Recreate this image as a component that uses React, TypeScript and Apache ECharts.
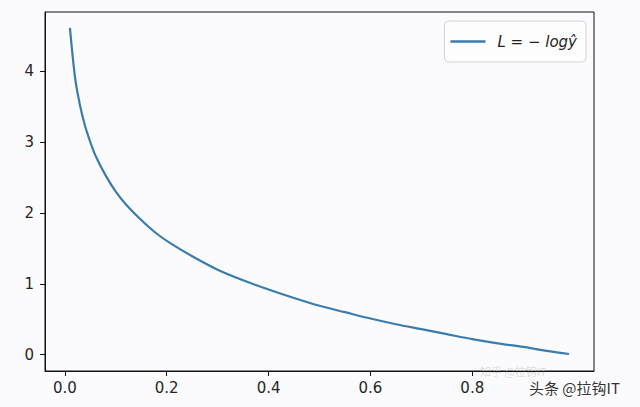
import React, { useEffect, useRef } from "react";
import * as echarts from "echarts";

const xValues = [0.01, 0.02, 0.03, 0.04, 0.05, 0.06, 0.08, 0.10, 0.12, 0.15, 0.18, 0.21, 0.25, 0.30, 0.35, 0.40, 0.45, 0.50, 0.55, 0.60, 0.65, 0.70, 0.75, 0.80, 0.85, 0.90, 0.95, 0.99];
const yValues = [4.61, 3.91, 3.51, 3.22, 3.00, 2.81, 2.53, 2.30, 2.12, 1.90, 1.71, 1.56, 1.39, 1.20, 1.05, 0.92, 0.80, 0.69, 0.60, 0.51, 0.43, 0.36, 0.29, 0.22, 0.16, 0.11, 0.05, 0.01];
const xTicks = [0, 0.2, 0.4, 0.6, 0.8];
const yTicks = [0, 1, 2, 3, 4];
const seriesName = "L = − logŷ";

export default function App() {
  const ref = useRef<HTMLDivElement>(null);
  useEffect(() => {
    if (!ref.current) return;
    const chart = echarts.init(ref.current, undefined, { renderer: "svg" });
    const font = "DejaVu Sans";
    chart.setOption({
      animation: false,
      backgroundColor: "#fbfbfd",
      textStyle: { fontFamily: font },
      grid: {
        left: 45,
        right: 46,
        top: 12,
        bottom: 36,
        containLabel: false,
        show: true,
        borderColor: "#111",
        borderWidth: 1,
        backgroundColor: "transparent",
      },
      legend: {
        show: true,
        right: 54,
        top: 21,
        icon: "rect",
        itemWidth: 35,
        itemHeight: 2.5,
        itemGap: 10,
        padding: [13, 9, 13, 6],
        borderColor: "#d4d4d8",
        borderWidth: 1,
        borderRadius: 4,
        backgroundColor: "#fdfdfe",
        formatter: (n: string) => "{a|" + n + "}",
        textStyle: {
          fontSize: 15,
          fontStyle: "italic",
          color: "#222",
          fontFamily: font,
          rich: { a: { fontSize: 15, fontStyle: "italic", color: "#222", fontFamily: font, padding: [0, 0, 0, 7] } },
        },
        data: [seriesName],
      },
      xAxis: {
        type: "value",
        min: -0.039,
        max: 1.039,
        splitLine: { show: false },
        axisLine: { show: true, onZero: false, lineStyle: { color: "#111", width: 1 } },
        axisTick: { show: true, length: 5, customValues: xTicks, lineStyle: { color: "#111" } },
        axisLabel: {
          customValues: xTicks,
          formatter: (v: number) => v.toFixed(1),
          fontSize: 15,
          color: "#262626",
          margin: 9,
          fontFamily: font,
        },
      },
      yAxis: {
        type: "value",
        min: -0.23,
        max: 4.835,
        splitLine: { show: false },
        axisLine: { show: true, onZero: false, lineStyle: { color: "#111", width: 1 } },
        axisTick: { show: true, length: 5, customValues: yTicks, lineStyle: { color: "#111" } },
        axisLabel: {
          customValues: yTicks,
          formatter: (v: number) => String(v),
          fontSize: 15,
          color: "#262626",
          margin: 11,
          fontFamily: font,
        },
      },
      series: [
        {
          name: seriesName,
          type: "line",
          data: xValues.map((x, i) => [x, yValues[i]]),
          smooth: 0.3,
          symbol: "none",
          lineStyle: { color: "#3a7cae", width: 2.2 },
          itemStyle: { color: "#3a7cae" },
        },
      ],
      graphic: [
        {
          type: "text",
          left: 480,
          top: 365,
          style: { text: "知乎 @拉钩IT", fontSize: 11, fill: "#dedede", fontFamily: "Noto Sans CJK SC" },
        },
        {
          type: "text",
          left: 528,
          top: 379,
          style: {
            text: "头条 @拉钩IT",
            fontSize: 15,
            fill: "#333",
            stroke: "#ffffff",
            lineWidth: 2,
            fontFamily: "Noto Sans CJK SC",
          },
        },
      ],
    });
    return () => chart.dispose();
  }, []);
  return (
    <div
      ref={ref}
      style={{ position: "fixed", left: 0, top: 0, width: 640, height: 407 }}
    />
  );
}
